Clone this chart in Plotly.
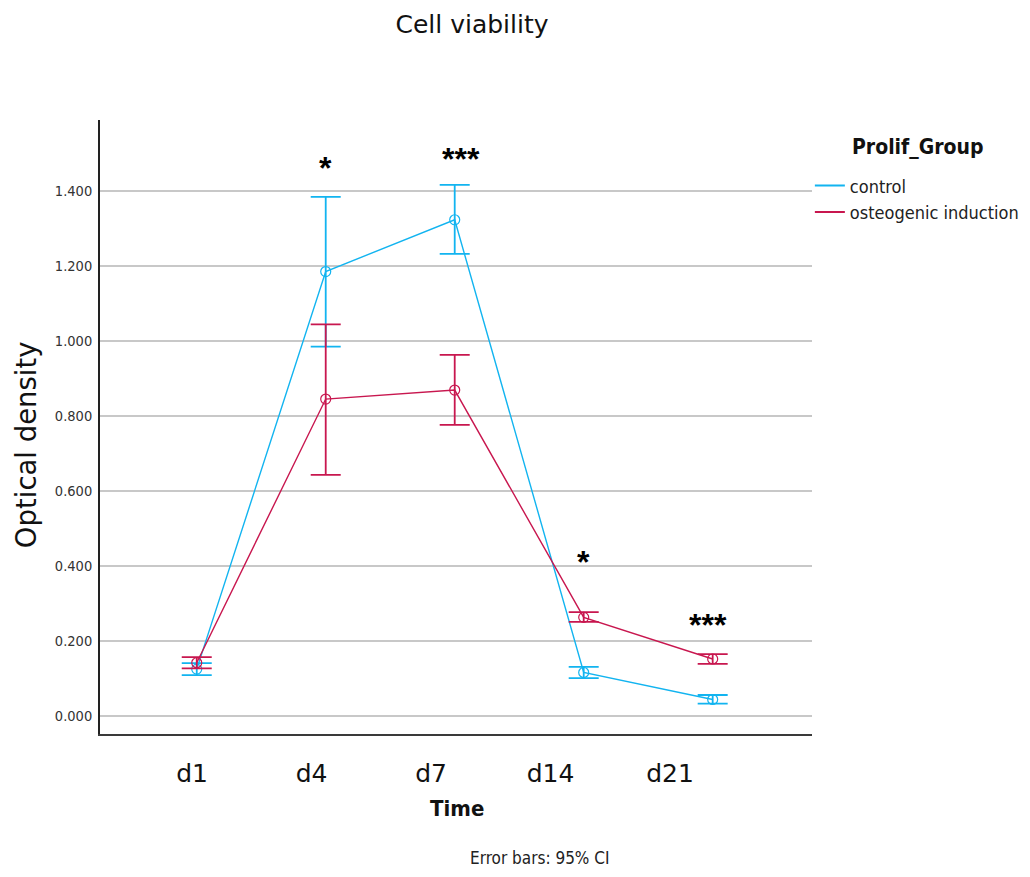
import plotly.graph_objects as go

categories = ["d1", "d4", "d7", "d14", "d21"]
control_mean = [0.125, 1.185, 1.323, 0.116, 0.044]
control_lo = [0.109, 0.985, 1.232, 0.101, 0.033]
control_hi = [0.141, 1.384, 1.416, 0.131, 0.056]
osteo_mean = [0.142, 0.845, 0.869, 0.263, 0.152]
osteo_lo = [0.127, 0.643, 0.776, 0.251, 0.139]
osteo_hi = [0.157, 1.044, 0.963, 0.277, 0.165]
sig_labels = ["*", "***", "*", "***"]
sig_cats = ["d4", "d7", "d14", "d21"]
sig_y = [1.469, 1.493, 0.419, 0.251]
sig_dx = [0, 6, 0, -5]
y_ticks = [0.0, 0.2, 0.4, 0.6, 0.8, 1.0, 1.2, 1.4]

CYAN = "#12B4F0"
RED = "#C8174F"
NARROW = "DejaVu Sans Condensed, Liberation Sans Narrow, Roboto, sans-serif"
SANS = "DejaVu Sans, sans-serif"
ARIAL = "Liberation Sans, Arial, sans-serif"

fig = go.Figure()

def add_series(name, mean, lo, hi, color):
    fig.add_trace(go.Scatter(
        x=categories, y=mean, name=name, mode="lines+markers", showlegend=False,
        line=dict(color=color, width=1.4),
        marker=dict(symbol="circle-open", size=10, color=color, line=dict(width=1.2)),
        error_y=dict(type="data", symmetric=False,
                     array=[h - m for h, m in zip(hi, mean)],
                     arrayminus=[m - l for m, l in zip(mean, lo)],
                     color=color, thickness=1.8, width=15),
    ))
    fig.add_trace(go.Scatter(
        x=[None], y=[None], name=name, mode="lines", legendgroup=name,
        line=dict(color=color, width=2), showlegend=True,
    ))

add_series("control", control_mean, control_lo, control_hi, CYAN)
add_series("osteogenic induction", osteo_mean, osteo_lo, osteo_hi, RED)

# invisible carrier for the tick-label axis
fig.add_trace(go.Scatter(x=categories, y=[None] * len(categories), xaxis="x2",
                         showlegend=False, hoverinfo="skip", mode="markers"))

for lab, c, y, dx in zip(sig_labels, sig_cats, sig_y, sig_dx):
    fig.add_annotation(x=c, y=y, text="<b>" + lab + "</b>", showarrow=False, xshift=dx, yshift=-3,
                       font=dict(family=ARIAL, size=32, color="black"))

# legend title
fig.add_annotation(xref="paper", yref="paper", x=1.053, xanchor="left", y=0.956, yanchor="middle",
                   text="<b>Prolif_Group</b>", showarrow=False,
                   font=dict(family=NARROW, size=21, color="#111"))

# y axis title
fig.add_annotation(xref="paper", yref="paper", x=-0.1040, xanchor="center", y=0.472, yanchor="middle",
                   text="Optical density", textangle=-90, showarrow=False, borderpad=0,
                   font=dict(family=SANS, size=27.5, color="#111"))

fig.add_annotation(xref="paper", yref="paper", x=0.501, y=-0.122, yanchor="middle",
                   text="<b>Time</b>", showarrow=False,
                   font=dict(family=NARROW, size=22, color="#111"))

fig.add_annotation(xref="paper", yref="paper", x=0.617, y=-0.202, yanchor="middle",
                   text="Error bars: 95% CI", showarrow=False,
                   font=dict(family=NARROW, size=17, color="#222"))

fig.update_layout(
    width=1030, height=877,
    margin=dict(l=92, r=226, t=112, b=151),
    paper_bgcolor="white", plot_bgcolor="white",
    title=dict(text="Cell viability", x=0.4505, xanchor="center", y=0.982, yanchor="middle",
               font=dict(family=SANS, size=25, color="#111")),
    showlegend=True,
    legend=dict(x=0.997, xanchor="left", y=0.923, yanchor="top",
                font=dict(family=NARROW, size=18, color="#222"),
                itemwidth=30, tracegroupgap=0, bgcolor="rgba(0,0,0,0)"),
    xaxis=dict(type="category", categoryorder="array", categoryarray=categories,
               range=[-0.75, 4.77], showgrid=False, zeroline=False, automargin=False,
               showline=True, linecolor="#3a3a3a", linewidth=1.8, ticks="",
               showticklabels=False),
    xaxis2=dict(type="category", categoryorder="array", categoryarray=categories,
                overlaying="x", anchor="y", side="bottom",
                range=[-0.770, 5.188], showgrid=False, zeroline=False, automargin=False,
                showline=False, ticks="",
                tickfont=dict(family=SANS, size=25, color="#111"), ticklabelstandoff=22),
    yaxis=dict(range=[-0.048, 1.589], tickvals=y_ticks, tickformat=".3f",
               showgrid=True, gridcolor="#C8C8C8", gridwidth=1.5, zeroline=False, automargin=False,
               showline=True, linecolor="#222", linewidth=1.8, ticks="",
               tickfont=dict(family=NARROW, size=14.5, color="#333"), ticklabelstandoff=3),
)

fig.write_html("out.html")
